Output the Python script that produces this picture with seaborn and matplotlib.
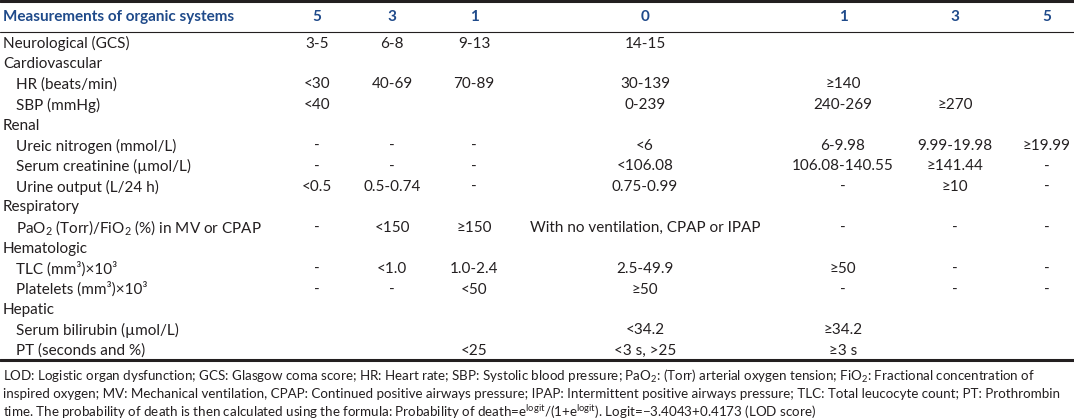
"""LOD score table redrawn as a figure (rows of organ measurements by score band)."""

import matplotlib

matplotlib.use("Agg")

import matplotlib.pyplot as plt
import seaborn as sns

sns.set_theme(style="white")
plt.rcParams["font.family"] = ["Lato", "DejaVu Sans"]
plt.rcParams["mathtext.fontset"] = "custom"
plt.rcParams["mathtext.rm"] = "Lato"
plt.rcParams["mathtext.it"] = "Lato:italic"
plt.rcParams["mathtext.bf"] = "Lato:bold"

INK = "#231f20"
BLUE = "#1f4a8a"

# table content
header_label = "Measurements of organic systems"
score_headers = ["5", "3", "1", "0", "1", "3", "5"]

row_labels = [
    "Neurological (GCS)",
    "Cardiovascular",
    "HR (beats/min)",
    "SBP (mmHg)",
    "Renal",
    "Ureic nitrogen (mmol/L)",
    "Serum creatinine (µmol/L)",
    "Urine output (L/24 h)",
    "Respiratory",
    "PaO$_2$ (Torr)/FiO$_2$ (%) in MV or CPAP",
    "Hematologic",
    "TLC (mm³)×10³",
    "Platelets (mm³)×10³",
    "Hepatic",
    "Serum bilirubin (µmol/L)",
    "PT (seconds and %)",
]
indented = [False, False, True, True, False, True, True, True,
            False, True, False, True, True, False, True, True]

score_5_low = ["3-5", "", "<30", "<40", "", "-", "-", "<0.5", "", "-", "", "-", "-", "", "", ""]
score_3_low = ["6-8", "", "40-69", "", "", "-", "-", "0.5-0.74", "", "<150", "", "<1.0", "-", "", "", ""]
score_1_low = ["9-13", "", "70-89", "", "", "-", "-", "-", "", "≥150", "", "1.0-2.4", "<50", "", "", "<25"]
score_0 = ["14-15", "", "30-139", "0-239", "", "<6", "<106.08", "0.75-0.99", "",
           "With no ventilation, CPAP or IPAP", "", "2.5-49.9", "≥50", "", "<34.2", "<3 s, >25"]
score_1_high = ["", "", "≥140", "240-269", "", "6-9.98", "106.08-140.55", "-", "", "-", "", "≥50", "-", "", "≥34.2", "≥3 s"]
score_3_high = ["", "", "", "≥270", "", "9.99-19.98", "≥141.44", "≥10", "", "-", "", "-", "-", "", "", ""]
score_5_high = ["", "", "", "", "", "≥19.99", "-", "-", "", "-", "", "-", "-", "", "", ""]

footnotes = [
    "LOD: Logistic organ dysfunction; GCS: Glasgow coma score; HR: Heart rate; SBP: Systolic blood pressure; "
    "PaO$_2$: (Torr) arterial oxygen tension; FiO$_2$: Fractional concentration of",
    "inspired oxygen; MV: Mechanical ventilation, CPAP: Continued positive airways pressure; IPAP: Intermittent "
    "positive airways pressure; TLC: Total leucocyte count; PT: Prothrombin",
    "time. The probability of death is then calculated using the formula: Probability of "
    "death=e$^{\\mathrm{logit}}$/(1+e$^{\\mathrm{logit}}$). Logit=−3.4043+0.4173 (LOD score)",
]

# layout, in pixels of the 1074x420 canvas
W, H = 1074, 420
col_x = [317, 392, 474, 645, 843, 955, 1047]
header_y = 17
row_y0, row_step = 43.5, 20.5
foot_y0, foot_step = 376, 18

fig = plt.figure(figsize=(W / 100, H / 100), dpi=100)
ax = fig.add_axes([0, 0, 1, 1])
ax.set_xlim(0, W)
ax.set_ylim(H, 0)
ax.axis("off")

# rules
ax.axhline(1.4, color=INK, lw=2.2)
ax.axhline(32, color=INK, lw=0.8)
ax.axhline(360, color=INK, lw=2.2)


def fit_size(text, target_px, base=10.0, **kw):
    """Font size that makes `text` span target_px pixels."""
    t = ax.text(0, 0, text, fontsize=base, **kw)
    fig.canvas.draw()
    width = t.get_window_extent().width
    t.remove()
    return base * target_px / width


# Lato is wider in capitals and narrower in lowercase than the original face,
# so average a caps-heavy and a lowercase-heavy sample
body_fs = 0.5 * (fit_size("Neurological (GCS)", 132)
                 + fit_size("With no ventilation, CPAP or IPAP", 222))
foot_fs = fit_size(footnotes[0], 1035)

ax.text(3, header_y, header_label, fontsize=body_fs, fontweight="bold",
        color=BLUE, va="center")
for x, s in zip(col_x, score_headers):
    ax.text(x, header_y, s, fontsize=body_fs, fontweight="bold",
            color=BLUE, ha="center", va="center")

columns = [score_5_low, score_3_low, score_1_low, score_0,
           score_1_high, score_3_high, score_5_high]
for i, (label, indent) in enumerate(zip(row_labels, indented)):
    y = row_y0 + i * row_step
    ax.text(16 if indent else 3, y, label, fontsize=body_fs, color=INK, va="center")
    for x, col in zip(col_x, columns):
        if col[i]:
            ax.text(x, y, col[i], fontsize=body_fs, color=INK, ha="center", va="center")

for j, line in enumerate(footnotes):
    ax.text(3, foot_y0 + j * foot_step, line, fontsize=foot_fs, color=INK, va="center")

fig.savefig("out.png", dpi=100)
plt.close(fig)
